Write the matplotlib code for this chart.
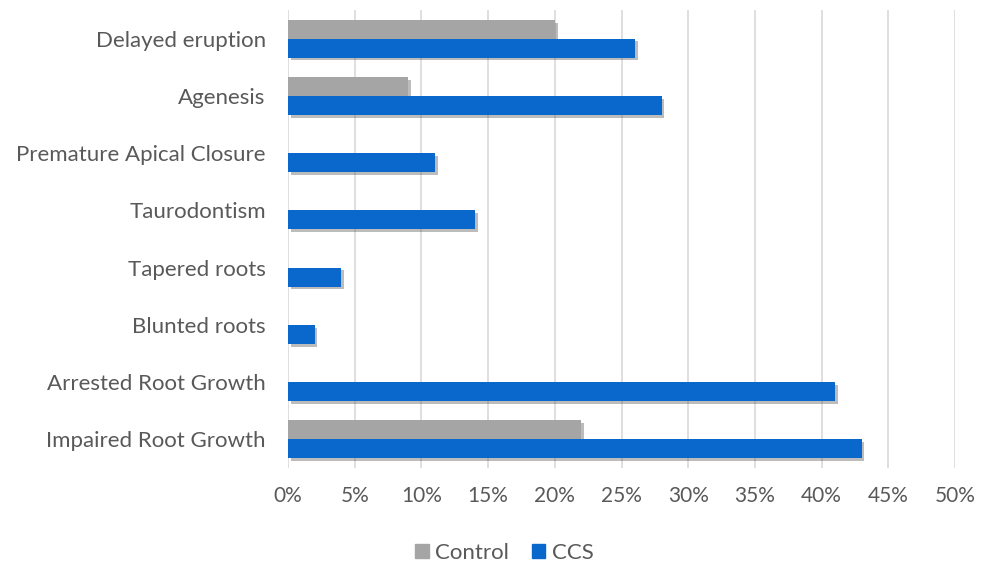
import numpy as np
import matplotlib as mpl
mpl.use('Agg')
import matplotlib.pyplot as plt
import matplotlib.patheffects as pe
from matplotlib.patches import Patch
from matplotlib.ticker import FuncFormatter

categories = ['Delayed eruption', 'Agenesis', 'Premature Apical Closure', 'Taurodontism',
              'Tapered roots', 'Blunted roots', 'Arrested Root Growth', 'Impaired Root Growth']
control = [20, 9, 0, 0, 0, 0, 0, 22]
ccs = [26, 28, 11, 14, 4, 2, 41, 43]

plt.rcParams['font.family'] = ['Lato', 'DejaVu Sans']
txt = '#595959'
gray = '#A5A5A5'
blue = '#0A68CC'

fig = plt.figure(figsize=(9.89, 5.65), dpi=100)
ax = fig.add_axes([288/989, 1 - 468/565, (955 - 288)/989, (468 - 10)/565])

y = np.arange(len(categories))
h = 0.33
shadow = [pe.SimplePatchShadow(offset=(2, -2), alpha=0.35, shadow_rgbFace='#404040'), pe.Normal()]
b1 = ax.barh(y - h/2, control, height=h, color=gray, zorder=3)
b2 = ax.barh(y + h/2, ccs, height=h, color=blue, zorder=3)
for b in list(b1) + list(b2):
    if b.get_width() > 0:
        b.set_path_effects(shadow)

ax.set_ylim(len(categories) - 0.5, -0.5)
ax.set_xlim(0, 50)
ax.set_xticks(np.arange(0, 51, 5))
ax.xaxis.set_major_formatter(FuncFormatter(lambda v, p: '%d%%' % v))
ax.set_yticks(y)
ax.set_yticklabels(categories)
ax.grid(axis='x', color='#D9D9D9', linewidth=1.2, zorder=0)
ax.set_axisbelow(True)
for s in ax.spines.values():
    s.set_visible(False)
ax.tick_params(axis='both', length=0, colors=txt)
ax.tick_params(axis='y', pad=16, labelsize=16)
ax.tick_params(axis='x', pad=13, labelsize=15)

handles = [Patch(color=gray, label='Control'), Patch(color=blue, label='CCS')]
fig.legend(handles=handles, loc='center', bbox_to_anchor=(0.51, 1 - 553/565), ncol=2,
           frameon=False, fontsize=16, handlelength=0.6, handleheight=0.6,
           handletextpad=0.3, columnspacing=1.0, labelcolor=txt)

fig.savefig('out.png', dpi=100)
